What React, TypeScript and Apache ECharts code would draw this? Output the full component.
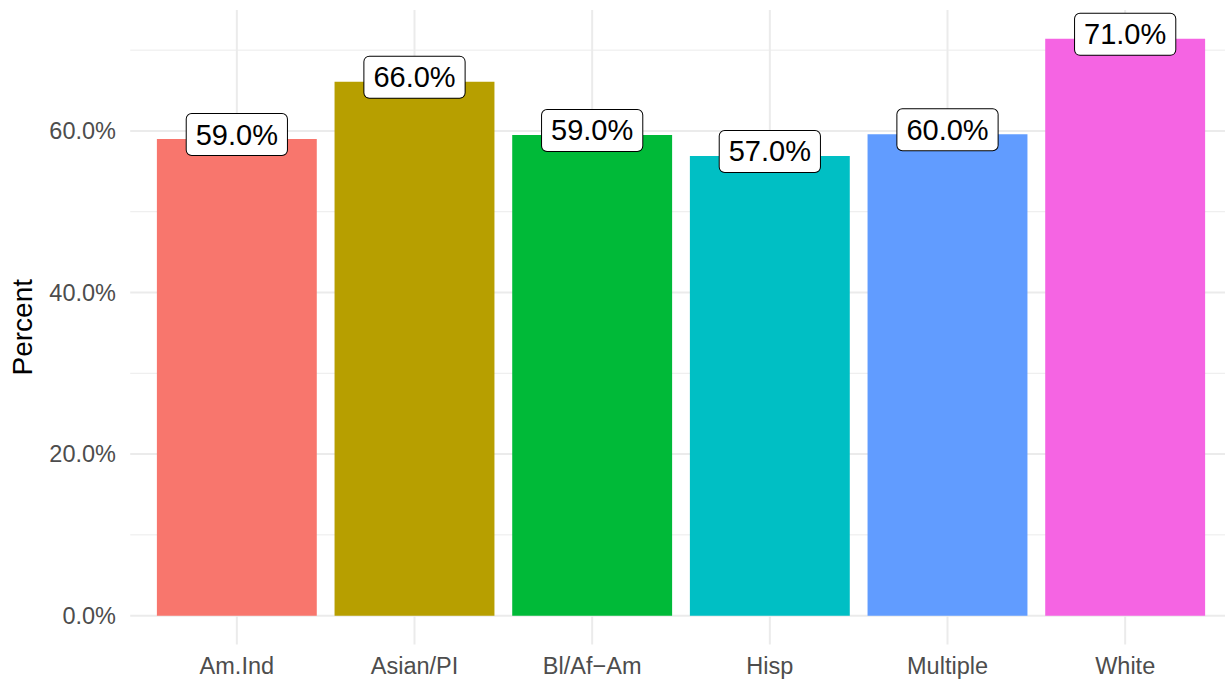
import React, { useEffect, useRef } from "react";
import * as echarts from "echarts";

const categories = ["Am.Ind", "Asian/PI", "Bl/Af\u2212Am", "Hisp", "Multiple", "White"];
const values = [59.0, 66.1, 59.5, 56.9, 59.6, 71.4];
const labelTexts = ["59.0%", "66.0%", "59.0%", "57.0%", "60.0%", "71.0%"];
const colors = ["#F8766D", "#B79F00", "#00BA38", "#00BFC4", "#619CFF", "#F564E3"];
const yTickLabels = [0, 20, 40, 60];
const yMajorGrid = [0, 20, 40, 60];
const yMinorGrid = [10, 30, 50, 70];

const FONT = "'Liberation Sans', Arial, Helvetica, sans-serif";

export default function App() {
  const ref = useRef<HTMLDivElement>(null);
  useEffect(() => {
    document.body.style.margin = "0";
    if (!ref.current) return;
    const chart = echarts.init(ref.current, undefined, { renderer: "svg" });
    const maxV = Math.max(...values);
    const pad = maxV * 0.05;

    const hGridRender = (params: any, api: any) => {
      const cs = params.coordSys;
      const y = api.coord([0, api.value(1)])[1];
      const band = api.size([1, 0])[0];
      const major = api.value(2) === 1;
      return {
        type: "line",
        shape: { x1: cs.x - 0.1 * band, y1: y, x2: cs.x + cs.width + 0.1 * band, y2: y },
        style: { stroke: "#ebebeb", lineWidth: major ? 2 : 1 },
        silent: true,
      };
    };
    const vGridRender = (params: any, api: any) => {
      const cs = params.coordSys;
      const x = api.coord([api.value(0), 0])[0];
      return {
        type: "line",
        shape: { x1: x, y1: cs.y, x2: x, y2: cs.y + cs.height },
        style: { stroke: "#ebebeb", lineWidth: 2 },
        silent: true,
      };
    };

    chart.setOption({
      animation: false,
      grid: { left: 147, right: 11, top: 10, bottom: 34.5, containLabel: false },
      xAxis: {
        type: "category",
        data: categories,
        axisLine: { show: false },
        axisTick: { show: false },
        splitLine: { show: false },
        axisLabel: { color: "#4d4d4d", fontSize: 23.5, fontFamily: FONT, margin: 9 },
      },
      yAxis: {
        type: "value",
        min: -pad,
        max: maxV + pad,
        axisLine: { show: false },
        axisTick: { show: false },
        splitLine: { show: false },
        axisLabel: {
          customValues: yTickLabels,
          color: "#4d4d4d",
          fontSize: 23.5,
          fontFamily: FONT,
          margin: 32,
          formatter: (v: number) => v.toFixed(1) + "%",
        },
        name: "Percent",
        nameLocation: "middle",
        nameGap: 112,
        nameTextStyle: { color: "#000", fontSize: 28, fontFamily: FONT },
      },
      series: [
        {
          type: "custom",
          z: 0,
          silent: true,
          renderItem: hGridRender,
          data: [
            ...yMajorGrid.map((v) => [0, v, 1]),
            ...yMinorGrid.map((v) => [0, v, 0]),
          ],
        },
        {
          type: "custom",
          z: 0,
          silent: true,
          renderItem: vGridRender,
          data: categories.map((_, i) => [i, 0]),
        },
        {
          type: "bar",
          z: 2,
          barWidth: "90%",
          data: values.map((v, i) => ({ value: v, itemStyle: { color: colors[i] } })),
          label: {
            show: true,
            position: "top",
            distance: -16,
            formatter: (p: any) => labelTexts[p.dataIndex],
            color: "#000",
            fontSize: 29,
            fontFamily: FONT,
            lineHeight: 29,
            backgroundColor: "#fff",
            borderColor: "#000",
            borderWidth: 1,
            borderRadius: 5,
            padding: [6, 9, 6, 9],
          },
        },
      ],
    });
    return () => chart.dispose();
  }, []);
  return <div ref={ref} style={{ width: 1225, height: 679 }} />;
}
